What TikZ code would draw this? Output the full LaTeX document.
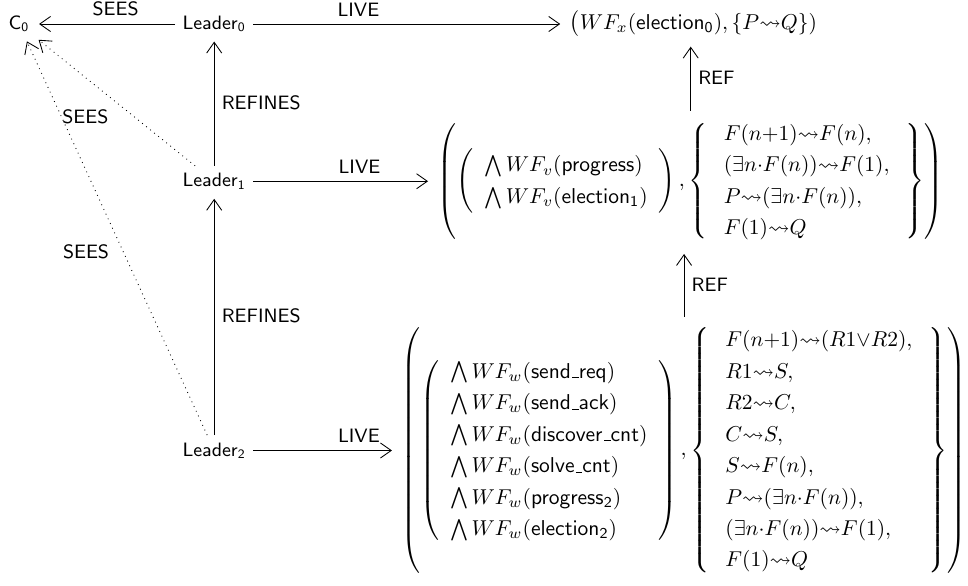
\documentclass[tikz,border=0pt]{standalone}
\usepackage{amssymb}
\usepackage{tikz}
\usetikzlibrary{positioning, arrows.meta}

\renewcommand{\arraystretch}{1.22}
\newcommand{\uscore}{\kern.06em\vbox{\hrule width.3em}}
\newcommand{\wfset}[1]{\left(\begin{array}{l}#1\end{array}\right)}
\newcommand{\livset}[1]{\left\{\begin{array}{@{\hspace{7.5pt}}l@{\hspace{7.5pt}}}#1\end{array}\right\}}

\begin{document}
\begin{tikzpicture}[shorten >=1pt, node distance=2cm, on grid, auto,
        >={Straight Barb[length=5pt,width=7pt]},
        every node/.style={font=\small\sffamily},
        spec/.style={font=\normalsize, on grid=false}]
        \useasboundingbox (-0.3105,0.3922) rectangle (15.509,-9.1684);

        \node (c0) {$\mathsf{C_0}$};
        \node (leader0) [right=3.19cm of c0] {$\mathsf{Leader_0}$};
        \node (leader1) [below=2.57cm of leader0] {$\mathsf{Leader_1}$};
        \node (leader2) [below=4.40cm of leader1] {$\mathsf{Leader_2}$};

        \node[spec] (spec0) [right=5.69cm of leader0.center]
            {$\big(WF_x(\mathsf{election_0}),\{P{\leadsto}Q\})$};
        \node[spec] (spec1) [right=3.53cm of leader1.center]
            {$\left(\wfset{
                \bigwedge WF_v(\mathsf{progress})\\
                \bigwedge WF_v(\mathsf{election_1})
            },\livset{
                F(n{+}1){\leadsto}F(n),\\
                (\exists n{\cdot}F(n)){\leadsto}F(1),\\
                P{\leadsto}(\exists n{\cdot}F(n)),\\
                F(1){\leadsto}Q
            }\right)$};
        \node[spec] (spec2) [right=2.94cm of leader2.center]
            {$\left(\wfset{
                \bigwedge WF_w(\mathsf{send\uscore req})\\
                \bigwedge WF_w(\mathsf{send\uscore ack})\\
                \bigwedge WF_w(\mathsf{discover\uscore cnt})\\
                \bigwedge WF_w(\mathsf{solve\uscore cnt})\\
                \bigwedge WF_w(\mathsf{progress_2})\\
                \bigwedge WF_w(\mathsf{election_2})
            },\livset{
                F(n{+}1){\leadsto}(R1{\vee}R2),\\
                R1{\leadsto}S,\\
                R2{\leadsto}C,\\
                C{\leadsto}S,\\
                S{\leadsto}F(n),\\
                P{\leadsto}(\exists n{\cdot}F(n)),\\
                (\exists n{\cdot}F(n)){\leadsto}F(1),\\
                F(1){\leadsto}Q
            }\right)$};

        \path[->]
        (leader0) edge [swap] node [pos=0.43] {SEES} (c0)
        (leader0) edge node [pos=0.34] {LIVE} (spec0)
        (leader1) edge [swap] node {REFINES} (leader0)
        (leader1) edge node [pos=0.6] {LIVE} (spec1)
        (leader2) edge [swap] node {REFINES} (leader1)
        (leader2) edge node [pos=0.75] {LIVE} (spec2)

        (spec1.north) edge [swap] node {REF} (spec1.north |- spec0.south)
        (spec2.north) edge [swap] node {REF} (spec2.north |- spec1.south);

        \path[->, dotted]
        (leader1) edge node {SEES} (c0)
        (leader2) edge node {SEES} (c0);
\end{tikzpicture}
\end{document}
